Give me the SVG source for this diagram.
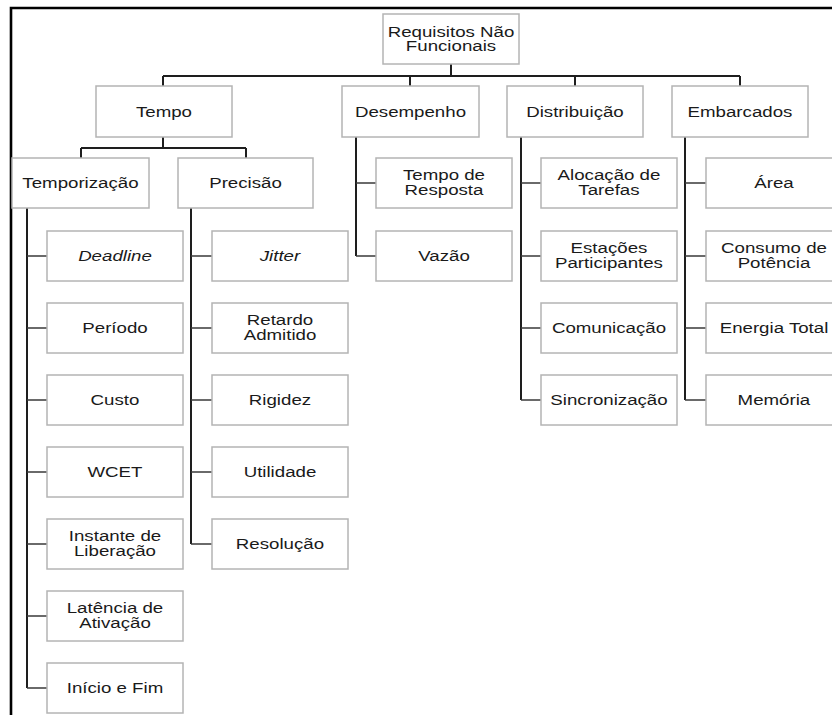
<svg xmlns="http://www.w3.org/2000/svg" width="832" height="715" viewBox="0 0 832 715">
<style>
.box rect{fill:#fff;stroke:#b4b4b4;stroke-width:1.5}
.box text{font-family:"Liberation Sans",Arial,sans-serif;font-size:15.2px;fill:#1a1a1a;text-anchor:middle;transform:scaleX(1.23);transform-box:fill-box;transform-origin:center}
.it{font-style:italic}
#connectors path{fill:none;stroke:#1e1e1e;stroke-width:2}
#connectors .br{stroke:#3a3a3a;stroke-width:1.6}
#frame path{fill:none;stroke:#000;stroke-width:2.6}
</style>
<rect width="832" height="715" fill="#fff"/>
<g id="frame"><path d="M11 715V8H832"/></g>
<g id="connectors">
<path d="M451 64V76M163 76H740M163 76V86M410 76V86M575 76V86M740 76V86"/>
<path d="M163 137V148M81 148H246M81 148V158M246 148V158"/>
<path d="M27 208V688"/>
<path class="br" d="M27 256H47M27 328H47M27 400H47M27 472H47M27 544H47M27 616H47M27 688H47"/>
<path d="M191 208V544"/>
<path class="br" d="M191 256H212M191 328H212M191 400H212M191 472H212M191 544H212"/>
<path d="M356 137V256"/>
<path class="br" d="M356 183H376M356 256H376"/>
<path d="M521 137V400"/>
<path class="br" d="M521 183H541M521 256H541M521 328H541M521 400H541"/>
<path d="M685 137V400"/>
<path class="br" d="M685 183H706M685 256H706M685 328H706M685 400H706"/>
</g>
<g id="n-root" class="box"><rect x="383" y="14" width="136" height="50"/><text x="451" y="37"><tspan x="451">Requisitos Não</tspan><tspan x="451" dy="14.5">Funcionais</tspan></text></g>
<g id="n-tempo" class="box"><rect x="96" y="86" width="136" height="51"/><text x="164" y="117">Tempo</text></g>
<g id="n-desempenho" class="box"><rect x="342" y="86" width="137" height="51"/><text x="410.5" y="117">Desempenho</text></g>
<g id="n-distribuicao" class="box"><rect x="507" y="86" width="136" height="51"/><text x="575" y="117">Distribuição</text></g>
<g id="n-embarcados" class="box"><rect x="672" y="86" width="136" height="51"/><text x="740" y="117">Embarcados</text></g>
<g id="n-temporizacao" class="box"><rect x="12" y="158" width="137" height="50"/><text x="80.5" y="188.5">Temporização</text></g>
<g id="n-precisao" class="box"><rect x="178" y="158" width="135" height="50"/><text x="245.5" y="188.5">Precisão</text></g>
<g id="n-deadline" class="box"><rect x="47" y="231" width="136" height="50"/><text class="it" x="115" y="261.5">Deadline</text></g>
<g id="n-periodo" class="box"><rect x="47" y="303" width="136" height="50"/><text x="115" y="333.5">Período</text></g>
<g id="n-custo" class="box"><rect x="47" y="375" width="136" height="50"/><text x="115" y="405.5">Custo</text></g>
<g id="n-wcet" class="box"><rect x="47" y="447" width="136" height="50"/><text x="115" y="477.5">WCET</text></g>
<g id="n-instante" class="box"><rect x="47" y="519" width="136" height="50"/><text x="115" y="541.5"><tspan x="115">Instante de</tspan><tspan x="115" dy="14.5">Liberação</tspan></text></g>
<g id="n-latencia" class="box"><rect x="47" y="591" width="136" height="50"/><text x="115" y="613.5"><tspan x="115">Latência de</tspan><tspan x="115" dy="14.5">Ativação</tspan></text></g>
<g id="n-inicio" class="box"><rect x="47" y="663" width="136" height="50"/><text x="115" y="693.5">Início e Fim</text></g>
<g id="n-jitter" class="box"><rect x="212" y="231" width="136" height="50"/><text class="it" x="280" y="261.5">Jitter</text></g>
<g id="n-retardo" class="box"><rect x="212" y="303" width="136" height="50"/><text x="280" y="325.5"><tspan x="280">Retardo</tspan><tspan x="280" dy="14.5">Admitido</tspan></text></g>
<g id="n-rigidez" class="box"><rect x="212" y="375" width="136" height="50"/><text x="280" y="405.5">Rigidez</text></g>
<g id="n-utilidade" class="box"><rect x="212" y="447" width="136" height="50"/><text x="280" y="477.5">Utilidade</text></g>
<g id="n-resolucao" class="box"><rect x="212" y="519" width="136" height="50"/><text x="280" y="549.5">Resolução</text></g>
<g id="n-tempo-resposta" class="box"><rect x="376" y="158" width="136" height="50"/><text x="444" y="180.5"><tspan x="444">Tempo de</tspan><tspan x="444" dy="14.5">Resposta</tspan></text></g>
<g id="n-vazao" class="box"><rect x="376" y="231" width="136" height="50"/><text x="444" y="261.5">Vazão</text></g>
<g id="n-alocacao" class="box"><rect x="541" y="158" width="136" height="50"/><text x="609" y="180.5"><tspan x="609">Alocação de</tspan><tspan x="609" dy="14.5">Tarefas</tspan></text></g>
<g id="n-estacoes" class="box"><rect x="541" y="231" width="136" height="50"/><text x="609" y="253.5"><tspan x="609">Estações</tspan><tspan x="609" dy="14.5">Participantes</tspan></text></g>
<g id="n-comunicacao" class="box"><rect x="541" y="303" width="136" height="50"/><text x="609" y="333.5">Comunicação</text></g>
<g id="n-sincronizacao" class="box"><rect x="541" y="375" width="136" height="50"/><text x="609" y="405.5">Sincronização</text></g>
<g id="n-area" class="box"><rect x="706" y="158" width="136" height="50"/><text x="774" y="188.5">Área</text></g>
<g id="n-consumo" class="box"><rect x="706" y="231" width="136" height="50"/><text x="774" y="253.5"><tspan x="774">Consumo de</tspan><tspan x="774" dy="14.5">Potência</tspan></text></g>
<g id="n-energia" class="box"><rect x="706" y="303" width="136" height="50"/><text x="774" y="333.5">Energia Total</text></g>
<g id="n-memoria" class="box"><rect x="706" y="375" width="136" height="50"/><text x="774" y="405.5">Memória</text></g>
</svg>
